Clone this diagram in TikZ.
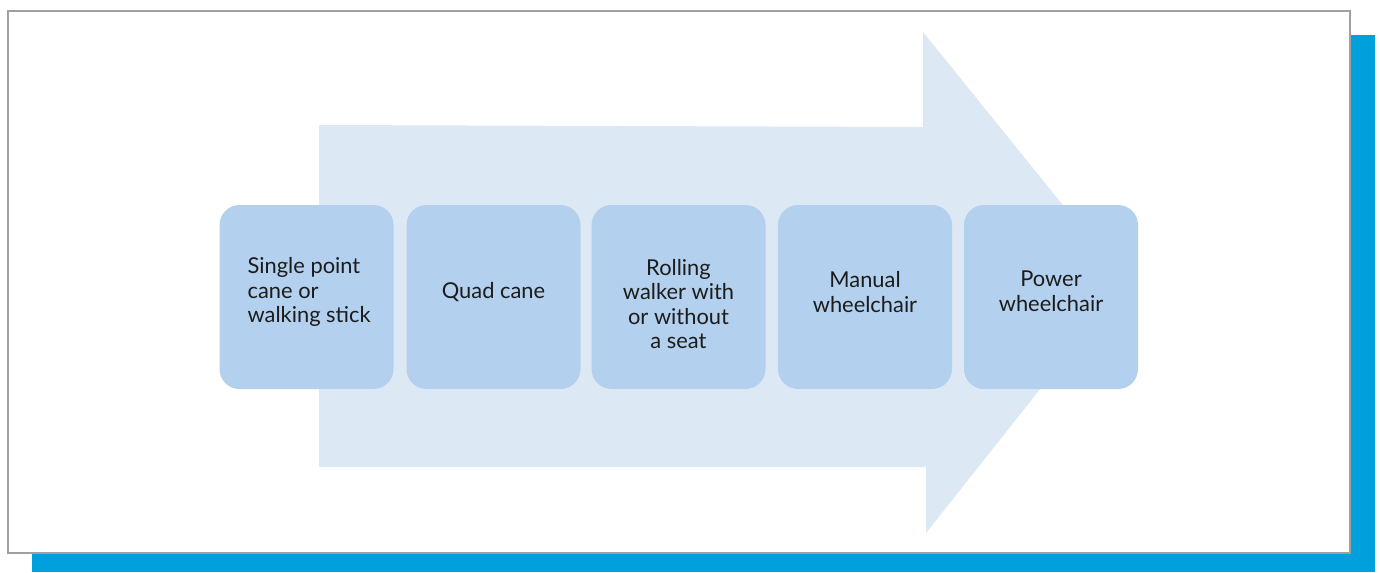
\documentclass[tikz,border=0pt]{standalone}
\usepackage{fontspec}
\setmainfont{Lato}
\usepackage{xcolor}

\definecolor{shadowblue}{HTML}{00A0DC}
\definecolor{arrowfill}{HTML}{DDE8F5}
\definecolor{boxfill}{HTML}{B3D1EE}
\definecolor{framegray}{HTML}{A0A0A0}
\definecolor{textdark}{HTML}{1C1C1C}

\tikzset{
  stage/.style={fill=boxfill, rounded corners=15pt, minimum width=130.5pt, minimum height=138pt, inner sep=0pt},
  stagetext/.style={text=textdark, font=\fontsize{16.4}{18.4}\selectfont, inner sep=0pt}
}

\begin{document}
\begin{tikzpicture}[x=0.75pt, y=-0.75pt]
\useasboundingbox (0,0) rectangle (1380,572);

% Marco con sombra
\fill[shadowblue] (32,35) rectangle (1375,572);
\draw[framegray, line width=1.2pt, fill=white] (8,11) rectangle (1350,553);

% Flecha de fondo
\coordinate (T1) at (319,125);
\coordinate (T2) at (923,127);
\coordinate (T3) at (923,32);
\coordinate (P) at (1125,282);
\coordinate (B3) at (926,533);
\coordinate (B2) at (926,467);
\coordinate (B1) at (319,467);
\fill[arrowfill] (T1) -- (T2) -- (T3) -- (P) -- (B3) -- (B2) -- (B1) -- cycle;

% Etapas
\node[stage] (cane) at (306.5,297) {};
\node[stage] (quad) at (493.5,297) {};
\node[stage] (walker) at (678.5,297) {};
\node[stage] (manual) at (865,297) {};
\node[stage] (power) at (1051,297) {};

% Textos
\node[stagetext, align=left] (canetext) at ([xshift=2pt, yshift=3.75pt]cane.center) {Single point\\cane or\\walking stick};
\node[stagetext, align=center] (quadtext) at ([yshift=3.75pt]quad.center) {Quad cane};
\node[stagetext, align=center] (walkertext) at ([yshift=-5.25pt]walker.center) {Rolling\\walker with\\or without\\a seat};
\node[stagetext, align=center] (manualtext) at ([yshift=3.75pt]manual.center) {Manual\\wheelchair};
\node[stagetext, align=center] (powertext) at ([yshift=4.5pt]power.center) {Power\\wheelchair};
\end{tikzpicture}
\end{document}
